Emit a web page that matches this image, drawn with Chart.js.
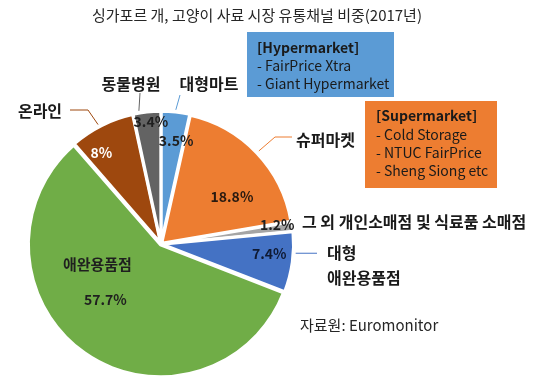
<!DOCTYPE html>
<html><head><meta charset="utf-8">
<script src="https://cdn.jsdelivr.net/npm/chart.js@4/dist/chart.umd.min.js"></script>
<style>html,body{margin:0;padding:0;background:#fff}canvas{display:block}</style>
</head><body>
<canvas id="c" width="540" height="381"></canvas>
<script>
const titleText = '싱가포르 개, 고양이 사료 시장 유통채널 비중(2017년)';
const categories = ['대형마트', '슈퍼마켓', '그 외 개인소매점 및 식료품 소매점', '대형 애완용품점', '애완용품점', '온라인', '동물병원'];
const shares = [3.5, 18.8, 1.2, 7.4, 57.7, 8, 3.4];
const shareLabels = ['3.5%', '18.8%', '1.2%', '7.4%', '57.7%', '8%', '3.4%'];
const sourceText = '자료원: Euromonitor';
const hyperLines = ['[Hypermarket]', '- FairPrice Xtra', '- Giant Hypermarket'];
const superLines = ['[Supermarket]', '- Cold Storage', '- NTUC FairPrice', '- Sheng Siong etc'];
const sliceColors = ['#5B9BD5', '#ED7D31', '#A5A5A5', '#4472C4', '#70AD47', '#9E480E', '#636363'];

const FONT = '"Noto Sans CJK KR", "Noto Sans", sans-serif';

// percent label placement: [radius fraction, angle shift in degrees]
const pctPlace = [[0.80, 2], [0.65, 10], [0.90, -1.8], [0.83, -3], [0.60, 10], [0.83, -6.6], [0.94, 1.4]];
const pctColor = ['#1f1f1f', '#2a1a10', '#1f1f1f', '#0f1a33', '#1f1f1f', '#ffffff', '#1f1f1f'];

// callouts: slice index, fraction along slice for line start, extra line points, text
const callouts = [
  {i: 6, frac: 0.23, pts: [[140, 93]], texts: [['동물병원', 131, 84, 'center']]},
  {i: 0, frac: 0.5, pts: [[180, 95]], texts: [['대형마트', 209, 84, 'center']]},
  {i: 5, frac: 0.46, pts: [[88, 110], [70, 110]], texts: [['온라인', 40, 111, 'center']]},
  {i: 1, frac: 0.5, pts: [[275, 137], [292, 137]], texts: [['슈퍼마켓', 296, 140, 'left']]},
  {i: 2, frac: 0.5, pts: null, texts: [['그 외 개인소매점 및 식료품 소매점', 302, 222, 'left']]},
  {i: 3, frac: 0.35, pts: [[317, null]], texts: [['대형', 327, 253, 'left'], ['애완용품점', 327, 278, 'left']]}
];

const labelPlugin = {
  id: 'labels',
  afterDatasetsDraw(chart) {
    const ctx = chart.ctx;
    const meta = chart.getDatasetMeta(0);
    const off = chart.data.datasets[0].offset;
    ctx.save();
    // title
    ctx.fillStyle = '#262626';
    ctx.font = '15px ' + FONT;
    ctx.textAlign = 'center';
    ctx.textBaseline = 'middle';
    ctx.fillText(titleText, 257, 15);

    // boxes
    function box(x, y, w, h, color, lines, tx, ty, lh) {
      ctx.fillStyle = color;
      ctx.fillRect(x, y, w, h);
      ctx.textAlign = 'left';
      lines.forEach((t, k) => {
        ctx.font = (k === 0 ? 'bold ' : '') + '14px ' + FONT;
        ctx.fillStyle = '#1a1a1a';
        ctx.fillText(t, tx, ty + k * lh);
      });
    }
    box(247, 32, 147, 65, sliceColors[0], hyperLines, 257, 48, 18);
    box(365, 101, 132, 87, sliceColors[1], superLines, 376, 116, 18.3);

    // percent labels
    meta.data.forEach((arc, i) => {
      const mid = (arc.startAngle + arc.endAngle) / 2 + pctPlace[i][1] * Math.PI / 180;
      const r = arc.outerRadius * pctPlace[i][0];
      const x = arc.x + r * Math.cos(mid);
      const y = arc.y + r * Math.sin(mid);
      ctx.font = 'bold 14px ' + FONT;
      ctx.fillStyle = pctColor[i];
      ctx.textAlign = 'center';
      ctx.fillText(shareLabels[i], x, y);
      if (i === 4) {
        ctx.font = 'bold 15px ' + FONT;
        const a2 = (arc.startAngle + arc.endAngle) / 2 + 37 * Math.PI / 180;
        const r2 = arc.outerRadius * 0.51;
        ctx.fillText(categories[i], arc.x + r2 * Math.cos(a2), arc.y + r2 * Math.sin(a2));
      }
    });

    // callouts
    callouts.forEach(c => {
      const arc = meta.data[c.i];
      const a = arc.startAngle + (arc.endAngle - arc.startAngle) * c.frac;
      const R = arc.outerRadius + off;
      const sx = arc.x + R * Math.cos(a);
      const sy = arc.y + R * Math.sin(a);
      if (c.pts) {
        ctx.strokeStyle = sliceColors[c.i];
        ctx.lineWidth = 1;
        ctx.beginPath();
        ctx.moveTo(sx, sy);
        c.pts.forEach(p => ctx.lineTo(p[0], p[1] === null ? sy : p[1]));
        ctx.stroke();
      }
      c.texts.forEach(t => {
        ctx.font = 'bold 16px ' + FONT;
        ctx.fillStyle = '#1a1a1a';
        ctx.textAlign = t[3];
        ctx.fillText(t[0], t[1], t[2]);
      });
    });

    // source
    ctx.font = '15px ' + FONT;
    ctx.fillStyle = '#262626';
    ctx.textAlign = 'left';
    ctx.fillText(sourceText, 300, 325);
    ctx.restore();
  }
};

function build() {
  new Chart(document.getElementById('c'), {
    type: 'pie',
    data: {
      labels: categories,
      datasets: [{
        data: shares,
        backgroundColor: sliceColors,
        borderColor: '#ffffff',
        borderWidth: 3,
        offset: 4,
        hoverOffset: 0
      }]
    },
    options: {
      responsive: false,
      animation: false,
      devicePixelRatio: 1,
      radius: 131,
      layout: {padding: {left: 20, right: 238, top: 110, bottom: 3}},
      plugins: {legend: {display: false}, tooltip: {enabled: false}, title: {display: false}}
    },
    plugins: [labelPlugin]
  });
}
Promise.all([
  document.fonts.load('15px "Noto Sans CJK KR"', '가'),
  document.fonts.load('bold 15px "Noto Sans CJK KR"', '가')
]).then(build, build);
</script>
</body></html>
